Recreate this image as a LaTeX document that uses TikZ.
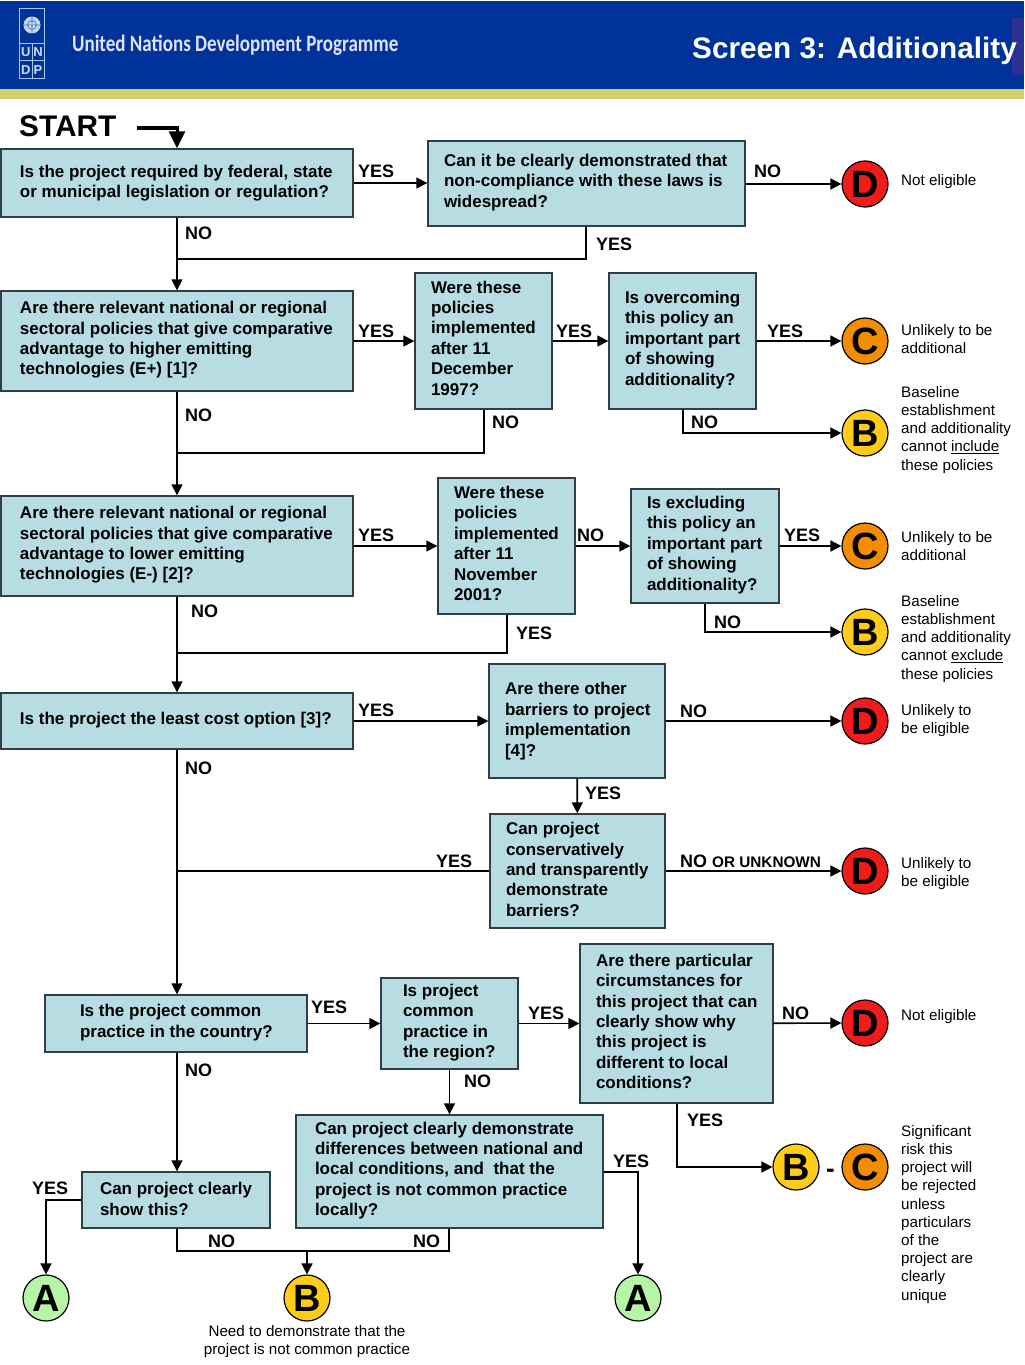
\documentclass[tikz,border=0pt]{standalone}
\usepackage{fontspec}
\setmainfont{Liberation Sans}
\newfontfamily\logofont{Carlito}
\usetikzlibrary{arrows.meta,calc}
\definecolor{hdrblue}{HTML}{003399}
\definecolor{hdrband}{HTML}{CFCF70}
\definecolor{hdrmark}{HTML}{2A3192}
\definecolor{boxfill}{HTML}{B7DDE3}
\definecolor{boxline}{HTML}{2F3F45}
\definecolor{logoline}{HTML}{A9C6EC}
\definecolor{cD}{HTML}{F01B1B}
\definecolor{cC}{HTML}{F28C00}
\definecolor{cB}{HTML}{FFCC1A}
\definecolor{cA}{HTML}{B5F5A5}
\tikzset{
  x=1bp,y=-1bp,
  qbox/.style={draw=boxline,line width=1.4bp,fill=boxfill,inner sep=0pt,align=left,
    font=\fontsize{17bp}{20.4bp}\selectfont\bfseries},
  res/.style={circle,draw=black,line width=1.2bp,minimum size=46bp,inner sep=0pt,
    font=\fontsize{38bp}{38bp}\selectfont\bfseries},
  lab/.style={inner sep=0pt,anchor=west,font=\fontsize{18bp}{20bp}\selectfont\bfseries},
  note/.style={inner sep=0pt,anchor=north west,align=left,font=\fontsize{15.2bp}{18.2bp}\selectfont},
  conn/.style={draw=black,line width=1.6bp},
  arr/.style={conn,-{Triangle[length=11bp,width=11bp]}},
}
% name, x0, y0, x1, y1, text-left, upward text shift, text
\newcommand{\qb}[8]{%
  \pgfmathsetmacro{\qw}{#4-#2}\pgfmathsetmacro{\qh}{#5-#3}%
  \pgfmathsetmacro{\qcx}{(#2+#4)/2}\pgfmathsetmacro{\qcy}{(#3+#5)/2}%
  \pgfmathsetmacro{\qt}{#4-#6}\pgfmathsetmacro{\qv}{2*#7}%
  \node[qbox,minimum width=\qw bp,minimum height=\qh bp] (#1) at (\qcx,\qcy)
    {\hspace*{\dimexpr #6bp-#2bp\relax}\begin{minipage}{\qt bp}\raggedright #8\par\vspace*{\qv bp}\end{minipage}};}
\begin{document}
\begin{tikzpicture}
\useasboundingbox (0,0) rectangle (1024,1365);
% header
\fill[hdrblue] (0,1) rectangle (1024,89);
\fill[hdrband] (0,89) rectangle (1024,99);
\fill[hdrmark] (1012,18) rectangle (1024,75);
% logo
\draw[logoline,line width=1bp] (19.5,8.5) rectangle (44,78.5);
\draw[logoline,line width=1bp] (19.5,43.5) -- (44,43.5) (19.5,61) -- (44,61) (32,43.5) -- (32,78.5);
\fill[logoline!70!white] (32,25) circle (8.5);
\draw[hdrblue!60!logoline,line width=.6bp] (32,25) circle (4.5) (23.5,25) -- (40.5,25) (32,16.5) -- (32,33.5);
\node[inner sep=0pt,text=logoline!60!white,font=\fontsize{13bp}{14bp}\selectfont\bfseries] (lu) at (25.7,52.5) {U};
\node[inner sep=0pt,text=logoline!60!white,font=\fontsize{13bp}{14bp}\selectfont\bfseries] (ln) at (38,52.5) {N};
\node[inner sep=0pt,text=logoline!60!white,font=\fontsize{13bp}{14bp}\selectfont\bfseries] (ld) at (25.7,70) {D};
\node[inner sep=0pt,text=logoline!60!white,font=\fontsize{13bp}{14bp}\selectfont\bfseries] (lp) at (38,70) {P};
\node[inner sep=0pt,anchor=west,xscale=.81,text=white!88!blue,font=\logofont\fontsize{23.5bp}{24bp}\selectfont\bfseries] (undp) at (72,45) {United Nations Development Programme};
\node[inner sep=0pt,anchor=east,text=white,font=\fontsize{29.7bp}{30bp}\selectfont\bfseries] (title) at (1017,51) {Screen 3: Additionality};
\node[inner sep=0pt,anchor=west,font=\fontsize{29.8bp}{30bp}\selectfont\bfseries] (start) at (19,126) {START};
% question boxes
\qb{q1}{1}{149}{353}{217}{20}{0}{Is the project required by federal, state\\or municipal legislation or regulation?}
\qb{q1b}{428}{141}{745}{226}{444}{1}{Can it be clearly demonstrated that\\non-compliance with these laws is\\widespread?}
\qb{q2}{1}{291}{353}{391}{20}{1}{Are there relevant national or regional\\sectoral policies that give comparative\\advantage to higher emitting\\technologies (E+) [1]?}
\qb{q2b}{415}{273}{552}{409}{431}{3}{Were these\\policies\\implemented\\after 11\\December\\1997?}
\qb{q2c}{609}{273}{756}{409}{625}{1}{Is overcoming\\this policy an\\important part\\of showing\\additionality?}
\qb{q3}{1}{496}{353}{596}{20}{1}{Are there relevant national or regional\\sectoral policies that give comparative\\advantage to lower emitting\\technologies (E-) [2]?}
\qb{q3b}{438}{478}{575}{614}{454}{2.5}{Were these\\policies\\implemented\\after 11\\November\\2001?}
\qb{q3c}{631}{489}{779}{603}{647}{1}{Is excluding\\this policy an\\important part\\of showing\\additionality?}
\qb{q4}{1}{693}{353}{749}{20}{1}{Is the project the least cost option [3]?}
\qb{q4b}{489}{664}{665}{778}{505}{0}{Are there other\\barriers to project\\implementation\\{[4]}?}
\qb{q5}{490}{814}{665}{928}{506}{1.5}{Can project\\conservatively\\and transparently\\demonstrate\\barriers?}
\qb{q6}{45}{995}{307}{1052}{80}{1}{Is the project common\\practice in the country?}
\qb{q6b}{381}{978}{518}{1069}{403}{1}{Is project\\common\\practice in\\the region?}
\qb{q6c}{580}{944}{773}{1103}{596}{2}{Are there particular\\circumstances for\\this project that can\\clearly show why\\this project is\\different to local\\conditions?}
\qb{q7}{296}{1115}{603}{1228}{315}{1}{Can project clearly demonstrate\\differences between national and\\local conditions, and ~that the\\project is not common practice\\locally?}
\qb{q8}{82}{1172}{270}{1228}{100}{1}{Can project clearly\\show this?}
% result circles
\node[res,fill=cD] (d1) at (865,184) {D};
\node[res,fill=cC] (c1) at (865,341) {C};
\node[res,fill=cB] (b1) at (865,433) {B};
\node[res,fill=cC] (c2) at (865,546) {C};
\node[res,fill=cB] (b2) at (865,632) {B};
\node[res,fill=cD] (d2) at (865,721) {D};
\node[res,fill=cD] (d3) at (865,871) {D};
\node[res,fill=cD] (d4) at (865,1023) {D};
\node[res,fill=cB] (b3) at (796,1167) {B};
\node[res,fill=cC] (c3) at (865,1167) {C};
\node[res,fill=cA] (a1) at (46,1298) {A};
\node[res,fill=cB] (b4) at (307,1298) {B};
\node[res,fill=cA] (a2) at (638,1298) {A};
\node[inner sep=0pt,font=\fontsize{26bp}{26bp}\selectfont\bfseries] (dash) at (830.5,1173) {-};
% routing points
\coordinate (s0) at (137,128.5);
\coordinate (v0) at (177,128.5);
\coordinate (j1) at (586,259);
\coordinate (j2) at (484,453);
\coordinate (j3) at (507,653);
\coordinate (t1) at (683,433);
\coordinate (t2) at (705,632);
\coordinate (t3) at (677,1167);
\coordinate (main) at (177,871);
\coordinate (e1) at (46,1200);
\coordinate (e2) at (638,1172);
\coordinate (m1) at (177,1251);
\coordinate (m2) at (449,1251);
\coordinate (m3) at (307,1251);
% connectors
\draw[line width=4bp] (s0) -- ($(v0)+(2,0)$);
\draw[line width=3bp,-{Triangle[length=17bp,width=16bp]}] (v0) -- (v0 |- q1.north);
\draw[arr] (q1.east) -- (q1.east -| q1b.west);
\draw[arr] (q1b.east |- d1) -- (d1);
\draw[arr] (q1.south -| v0) -- (q2.north -| v0);
\draw[conn] (q1b.south -| j1) -- (j1) -- (j1 -| v0);
\draw[arr] (q2) -- (q2b);
\draw[arr] (q2b) -- (q2c);
\draw[arr] (q2c) -- (c1);
\draw[arr] (q2c.south -| t1) -- (t1) -- (b1);
\draw[arr] (q2.south -| v0) -- (q3.north -| v0);
\draw[conn] (q2b.south -| j2) -- (j2) -- (j2 -| v0);
\draw[arr] (q3) -- (q3b);
\draw[arr] (q3b) -- (q3c);
\draw[arr] (q3c) -- (c2);
\draw[arr] (q3c.south -| t2) -- (t2) -- (b2);
\draw[arr] (q3.south -| v0) -- (q4.north -| v0);
\draw[conn] (q3b.south -| j3) -- (j3) -- (j3 -| v0);
\draw[arr] (q4) -- (q4b);
\draw[arr] (q4b) -- (d2);
\draw[arr] (q4b) -- (q5);
\draw[arr] (q4.south -| v0) -- (q6.north -| v0);
\draw[conn] (q5.west) -- (main);
\draw[arr] (q5) -- (d3);
\draw[arr] (q6) -- (q6b);
\draw[arr] (q6b) -- (q6c);
\draw[arr] (q6c) -- (d4);
\draw[arr] (q6b) -- (q7);
\draw[arr] (q6c.south -| t3) -- (t3) -- (b3);
\draw[arr] (q6.south -| v0) -- (q8.north -| v0);
\draw[arr] (q8.west |- e1) -- (e1) -- (a1);
\draw[arr] (q7.east |- e2) -- (e2) -- (a2);
\draw[conn] (q8.south -| m1) -- (m1) -- (m2) -- (q7.south -| m2);
\draw[arr] (m3) -- (b4);
% connector labels
\node[lab] (l1) at (358,171) {YES};
\node[lab] (l2) at (754,171) {NO};
\node[lab] (l3) at (185,233) {NO};
\node[lab] (l4) at (596,244) {YES};
\node[lab] (l5) at (358,331) {YES};
\node[lab] (l6) at (556,331) {YES};
\node[lab] (l7) at (767,331) {YES};
\node[lab] (l8) at (185,415) {NO};
\node[lab] (l9) at (492,422) {NO};
\node[lab] (l10) at (691,422) {NO};
\node[lab] (l11) at (358,535) {YES};
\node[lab] (l12) at (577,535) {NO};
\node[lab] (l13) at (784,535) {YES};
\node[lab] (l14) at (191,611) {NO};
\node[lab] (l15) at (516,633) {YES};
\node[lab] (l16) at (714,622) {NO};
\node[lab] (l17) at (358,710) {YES};
\node[lab] (l18) at (680,711) {NO};
\node[lab] (l19) at (185,768) {NO};
\node[lab] (l20) at (585,793) {YES};
\node[lab] (l21) at (436,861) {YES};
\node[lab] (l22) at (680,861) {NO {\fontsize{15.3bp}{16bp}\selectfont OR UNKNOWN}};
\node[lab] (l23) at (311,1007) {YES};
\node[lab] (l24) at (528,1013) {YES};
\node[lab] (l25) at (782,1013) {NO};
\node[lab] (l26) at (185,1070) {NO};
\node[lab] (l27) at (464,1081) {NO};
\node[lab] (l28) at (687,1120) {YES};
\node[lab] (l29) at (613,1161) {YES};
\node[lab] (l30) at (32,1188) {YES};
\node[lab] (l31) at (208,1241) {NO};
\node[lab] (l32) at (413,1241) {NO};
% notes
\node[note] (n1) at (901,174) {Not eligible};
\node[note] (n2) at (901,324) {Unlikely to be\\additional};
\node[note] (n3) at (901,386) {Baseline\\establishment\\and additionality\\cannot \underline{include}\\these policies};
\node[note] (n4) at (901,531) {Unlikely to be\\additional};
\node[note] (n5) at (901,595) {Baseline\\establishment\\and additionality\\cannot \underline{exclude}\\these policies};
\node[note] (n6) at (901,704) {Unlikely to\\be eligible};
\node[note] (n7) at (901,857) {Unlikely to\\be eligible};
\node[note] (n8) at (901,1009) {Not eligible};
\node[note] (n9) at (901,1125) {Significant\\risk this\\project will\\be rejected\\unless\\particulars\\of the\\project are\\clearly\\unique};
\node[note,anchor=north,align=center] (n10) at (307,1325) {Need to demonstrate that the\\project is not common practice};
\end{tikzpicture}
\end{document}
